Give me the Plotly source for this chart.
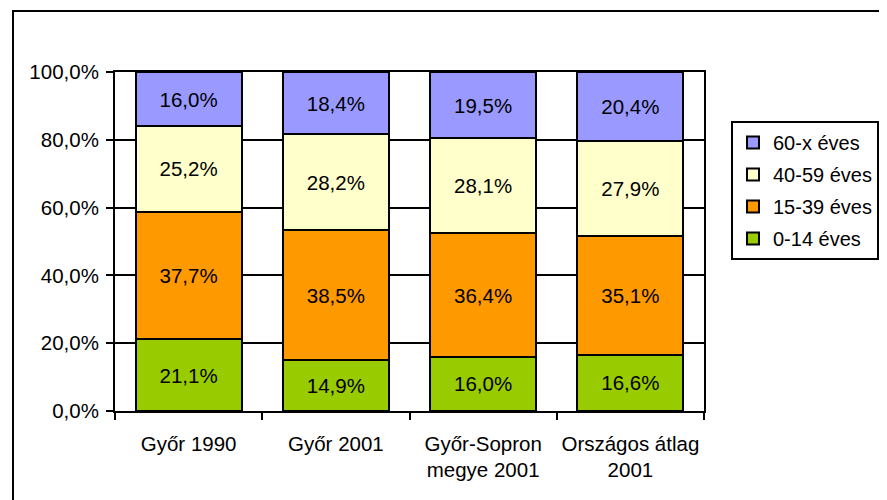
import plotly.graph_objects as go

categories = ["Győr 1990", "Győr 2001", "Győr-Sopron<br>megye 2001", "Országos átlag<br>2001"]
series_names = ["0-14 éves", "15-39 éves", "40-59 éves", "60-x éves"]
v_0_14 = [21.1, 14.9, 16.0, 16.6]
v_15_39 = [37.7, 38.5, 36.4, 35.1]
v_40_59 = [25.2, 28.2, 28.1, 27.9]
v_60_x = [16.0, 18.4, 19.5, 20.4]
colors = ["#99CC00", "#FF9900", "#FFFFCC", "#9999FF"]
y_tickvals = [0, 20, 40, 60, 80, 100]
y_ticktext = ["0,0%", "20,0%", "40,0%", "60,0%", "80,0%", "100,0%"]

FONT = "Liberation Sans, Arial, sans-serif"
OFF = 8  # default page body margin
W, H = 887 - OFF, 500 - OFF
# page-pixel positions of the plot area
PL, PR, PT, PB = 115, 704, 72, 411
L, R, T, B = PL - OFF, W - (PR - OFF), PT - OFF, H - (PB - OFF)
pw, ph = W - L - R, H - T - B

fig = go.Figure()
for i, (name, vals, col) in enumerate(zip(series_names, [v_0_14, v_15_39, v_40_59, v_60_x], colors)):
    fig.add_trace(go.Bar(
        name=name, x=categories, y=vals, legendgroup=f"g{i}", legendrank=10 - i,
        marker=dict(color=col, line=dict(color="black", width=2)),
        text=[f"{v:.1f}%".replace(".", ",") for v in vals],
        textposition="inside", insidetextanchor="middle",
        textfont=dict(family=FONT, size=20.5, color="black"),
        constraintext="none", hoverinfo="skip",
    ))

def px_x(p):
    return (p - PL) / pw

def px_y(p):
    return (PB - p) / ph

fig.update_layout(
    width=W, height=H, barmode="stack", bargap=0.28,
    margin=dict(l=L, r=R, t=T, b=B, pad=0, autoexpand=False),
    paper_bgcolor="white", plot_bgcolor="white",
    font=dict(family=FONT, size=20.5, color="black"),
    showlegend=True,
    legend=dict(
        x=px_x(731), y=px_y(121), xanchor="left", yanchor="top",
        bordercolor="black", borderwidth=2, bgcolor="white",
        traceorder="grouped", itemwidth=30, tracegroupgap=3,
        font=dict(family=FONT, size=20, color="black"),
    ),
    xaxis=dict(
        type="category", showgrid=False, showline=True, linecolor="black", linewidth=2,
        ticks="outside", ticklen=7, tickwidth=2, tickcolor="black", tickson="boundaries",
        mirror=True, ticklabelstandoff=13, tickangle=0, automargin=False,
        tickfont=dict(family=FONT, size=20.5, color="black"),
    ),
    yaxis=dict(
        range=[0, 100], tickvals=y_tickvals, ticktext=y_ticktext,
        showgrid=True, gridcolor="black", gridwidth=2,
        showline=True, linecolor="black", linewidth=2, mirror=True,
        ticks="outside", ticklen=7, tickwidth=2, tickcolor="black",
        ticklabelstandoff=3, automargin=False,
        tickfont=dict(family=FONT, size=20.5, color="black"),
        zeroline=False,
    ),
    shapes=[dict(
        type="rect", xref="paper", yref="paper",
        x0=px_x(13), x1=px_x(920), y0=px_y(530), y1=px_y(11),
        line=dict(color="black", width=2), fillcolor="rgba(0,0,0,0)", layer="below",
    )],
)

fig.write_html("out.html")
